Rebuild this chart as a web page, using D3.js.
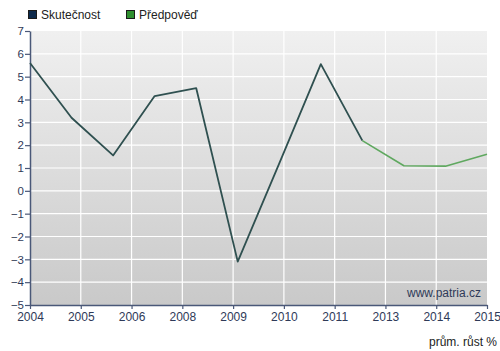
<!DOCTYPE html>
<html><head><meta charset="utf-8">
<script src="https://cdn.jsdelivr.net/npm/d3@7"></script>
<style>body{margin:0;background:#fff}svg{display:block;font-family:"Liberation Sans",Arial,sans-serif}</style>
</head><body><svg id="c" width="500" height="351"></svg>
<script>
const years = [2004,2005,2006,2007,2008,2009,2010,2011,2012,2013,2014,2015];
const actual = [5.6,3.2,1.55,4.15,4.5,-3.1,1.2,5.55,2.2];
const forecast = [2.2,1.1,1.08,1.6];
const forecastYears = [2012,2013,2014,2015];
const yTicks = [7,6,5,4,3,2,1,0,-1,-2,-3,-4,-5];
const xTickLabels = ["2004","2005","2006","2008","2009","2010","2011","2013","2014","2015"];
const legendLabels = ["Skutečnost","Předpověď"];

const svg = d3.select("#c");
const L=30,R=487,T=31,B=305;
const x = d3.scaleLinear().domain([2004,2015]).range([L,R]);
const y = d3.scaleLinear().domain([-5,7]).range([B,T]);
const xTickVals = d3.range(xTickLabels.length).map(i=>2004+i*11/(xTickLabels.length-1));

const defs = svg.append("defs");
const g = defs.append("linearGradient").attr("id","bg").attr("x1",0).attr("y1",0).attr("x2",0).attr("y2",1);
g.append("stop").attr("offset","0%").attr("stop-color","#f0f0f0");
g.append("stop").attr("offset","100%").attr("stop-color","#c9c9c9");
svg.append("rect").attr("x",L).attr("y",T).attr("width",R-L).attr("height",B-T).attr("fill","url(#bg)");

// grid
svg.append("g").selectAll("line").data(yTicks.filter(v=>v!==-5 && v!==7)).join("line")
  .attr("x1",L).attr("x2",R).attr("y1",d=>y(d)).attr("y2",d=>y(d))
  .attr("stroke","#fff").attr("stroke-width",1.2);
svg.append("g").selectAll("line").data(xTickVals.slice(1,-1)).join("line")
  .attr("x1",d=>x(d)).attr("x2",d=>x(d)).attr("y1",T).attr("y2",B)
  .attr("stroke","#fff").attr("stroke-width",1.2);

const axColor="#4a5878", txtColor="#2f3a58";
const yAxis = svg.append("g").attr("transform",`translate(${L},0)`)
  .call(d3.axisLeft(y).tickValues(yTicks).tickSize(5).tickSizeOuter(0).tickFormat(d3.format("d")));
const xAxis = svg.append("g").attr("transform",`translate(0,${B})`)
  .call(d3.axisBottom(x).tickValues(xTickVals).tickSize(4).tickSizeOuter(0).tickFormat((d,i)=>xTickLabels[i]));
[yAxis,xAxis].forEach(a=>{
  a.select(".domain").attr("stroke",axColor).attr("stroke-width",1.5);
  a.selectAll(".tick line").attr("stroke",axColor).attr("stroke-width",1.2);
  a.selectAll("text").attr("fill",txtColor).attr("font-size",12).attr("font-family","Liberation Sans, Arial, sans-serif");
});
yAxis.selectAll("text").attr("x",-6).attr("font-size",11.5);
xAxis.selectAll("text").attr("y",7);

const line = d3.line().x(d=>x(d[0])).y(d=>y(d[1]));
svg.append("path").datum(actual.map((v,i)=>[years[i],v])).attr("d",line)
  .attr("fill","none").attr("stroke","#2f5050").attr("stroke-width",1.8).attr("stroke-linejoin","round");
svg.append("path").datum(forecast.map((v,i)=>[forecastYears[i],v])).attr("d",line)
  .attr("fill","none").attr("stroke","#5fa85f").attr("stroke-width",1.6).attr("stroke-linejoin","round");

// legend
const leg = [{t:legendLabels[0],c:"#0d2a4c",x:28},{t:legendLabels[1],c:"#2f8f2f",x:126}];
leg.forEach(l=>{
  svg.append("rect").attr("x",l.x+0.5).attr("y",10.5).attr("width",8).attr("height",8)
    .attr("fill",l.c).attr("stroke","#1a1a1a").attr("stroke-width",1);
  svg.append("text").attr("x",l.x+13).attr("y",19).attr("font-size",12).attr("fill","#222").text(l.t);
});

svg.append("text").attr("x",481).attr("y",297).attr("text-anchor","end").attr("font-size",12).attr("fill",txtColor).text("www.patria.cz");
svg.append("text").attr("x",497).attr("y",346).attr("text-anchor","end").attr("font-size",12).attr("fill","#222").text("prům. růst %");
</script></body></html>
